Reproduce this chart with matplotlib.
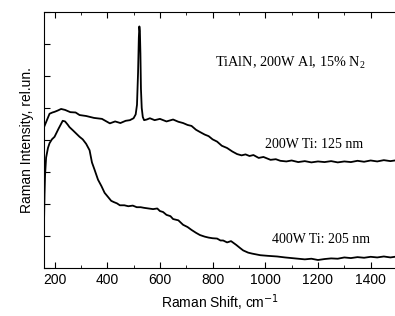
import matplotlib.pyplot as plt
from matplotlib.ticker import MultipleLocator, NullFormatter

# values, y in plot units (0..8)
shift_200 = [160, 165, 170, 181, 192, 200, 212, 225, 240, 260, 280, 295, 320, 350, 380, 410, 430,
             450, 470, 486, 500, 508, 513, 517, 520, 522, 524, 526, 528, 531, 535, 540, 550,
             562, 580, 600, 625, 650, 670, 688, 705, 720, 737, 752, 770, 785, 800, 817, 835,
             855, 875, 893, 910, 925, 940, 955, 975, 993, 1020, 1040, 1057, 1080, 1100, 1125,
             1150, 1175, 1200, 1225, 1250, 1275, 1300, 1325, 1350, 1375, 1400, 1425, 1450,
             1475, 1500]
int_200 = [4.40, 4.50, 4.60, 4.82, 4.86, 4.88, 4.92, 4.97, 4.94, 4.87, 4.86, 4.78, 4.75, 4.69,
           4.66, 4.52, 4.58, 4.53, 4.60, 4.62, 4.68, 4.80, 5.10, 6.10, 7.20, 7.55, 7.40, 6.70,
           5.60, 5.00, 4.72, 4.62, 4.64, 4.68, 4.62, 4.66, 4.58, 4.64, 4.57, 4.53, 4.47, 4.44,
           4.32, 4.25, 4.17, 4.12, 4.02, 3.95, 3.82, 3.75, 3.64, 3.56, 3.52, 3.55, 3.50, 3.53,
           3.44, 3.47, 3.38, 3.40, 3.35, 3.33, 3.36, 3.31, 3.34, 3.30, 3.33, 3.31, 3.34, 3.30,
           3.33, 3.31, 3.35, 3.32, 3.36, 3.33, 3.37, 3.34, 3.37]

shift_400 = [160, 162, 164, 168, 175, 181, 190, 200, 215, 231, 240, 250, 257, 270, 280, 295,
             307, 320, 333, 342, 352, 365, 378, 390, 402, 415, 425, 437, 448, 465, 480, 497,
             512, 527, 540, 557, 574, 590, 600, 612, 625, 640, 650, 670, 688, 705, 720, 737,
             752, 770, 785, 800, 817, 830, 840, 855, 870, 890, 905, 916, 935, 950, 981, 1010,
             1045, 1075, 1100, 1125, 1150, 1175, 1200, 1225, 1250, 1275, 1300, 1325, 1350,
             1375, 1400, 1425, 1450, 1475, 1500]
int_400 = [1.40, 2.30, 2.90, 3.45, 3.75, 3.90, 4.02, 4.10, 4.35, 4.60, 4.58, 4.48, 4.40,
           4.30, 4.22, 4.10, 4.02, 3.88, 3.68, 3.30, 3.07, 2.76, 2.56, 2.35, 2.23, 2.10,
           2.06, 2.02, 1.96, 1.96, 1.93, 1.95, 1.90, 1.90, 1.88, 1.86, 1.84, 1.86, 1.78,
           1.75, 1.66, 1.62, 1.53, 1.49, 1.35, 1.28, 1.19, 1.10, 1.03, 0.98, 0.95, 0.93,
           0.92, 0.86, 0.86, 0.80, 0.84, 0.72, 0.62, 0.55, 0.48, 0.45, 0.40, 0.38, 0.36,
           0.33, 0.31, 0.29, 0.27, 0.29, 0.25, 0.28, 0.30, 0.29, 0.33, 0.31, 0.34, 0.32,
           0.35, 0.33, 0.36, 0.33, 0.36]

plt.rcParams['font.family'] = ['Liberation Sans', 'DejaVu Sans']

fig = plt.figure(figsize=(3.95, 3.16), dpi=100)
ax = fig.add_axes([44 / 395, 48 / 316, 353 / 395, 256 / 316])

ax.plot(shift_200, int_200, color='black', lw=1.3)
ax.plot(shift_400, int_400, color='black', lw=1.3)

ax.set_xlim(160, 1500)
ax.set_ylim(0, 8)
ax.xaxis.set_major_locator(MultipleLocator(200))
ax.xaxis.set_minor_locator(MultipleLocator(100))
ax.yaxis.set_major_locator(MultipleLocator(1))
ax.yaxis.set_major_formatter(NullFormatter())
ax.tick_params(which='both', direction='in', top=True, right=False, labelsize=10)
ax.tick_params(which='major', length=4)
ax.tick_params(which='minor', length=2.5)
ax.spines['right'].set_visible(False)

ax.set_xlabel('Raman Shift, cm$^{-1}$', fontsize=10)
ax.set_ylabel('Raman Intensity, rel.un.', fontsize=10)

serif = ['Liberation Serif', 'DejaVu Serif']
ax.text(810, 6.42, r'TiAlN, 200W Al, 15% N$_\mathregular{2}$', family=serif, fontsize=10.3,
        va='center')
ax.text(1000, 3.87, '200W Ti: 125 nm', family=serif, fontsize=10, va='center')
ax.text(1027, 0.9, '400W Ti: 205 nm', family=serif, fontsize=10, va='center')

fig.savefig('out.png', dpi=100)
